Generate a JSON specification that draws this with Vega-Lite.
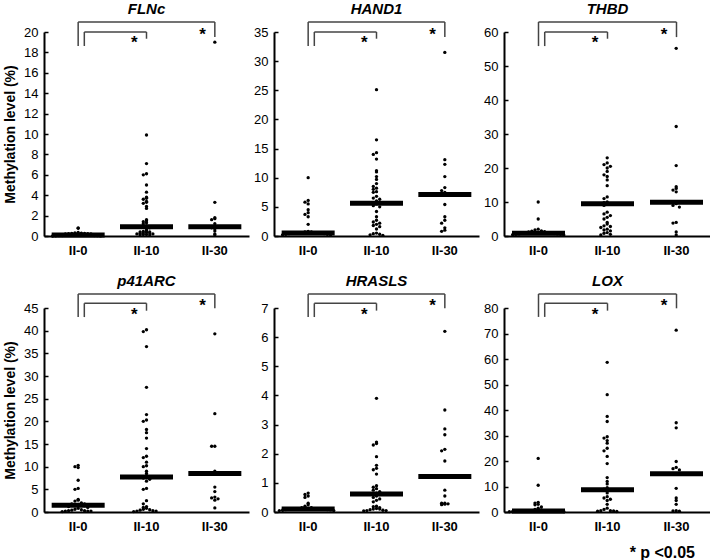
{
  "$schema": "https://vega.github.io/schema/vega-lite/v6.json",
  "padding": {"left": 3, "top": 2, "right": 0, "bottom": 0},
  "spacing": {"row": 17, "column": 4},
  "columns": 3,
  "title": {"text": "* p <0.05", "orient": "bottom", "anchor": "end", "fontSize": 16, "fontStyle": "normal", "fontWeight": "bold", "offset": 12, "dx": -16},
  "config": {
    "font": "Liberation Sans",
    "view": {"stroke": null},
    "axis": {"grid": false, "domainColor": "black", "domainWidth": 2, "tickColor": "black", "labelColor": "black", "titleColor": "black", "labelFont": "Liberation Sans", "titleFont": "Liberation Sans"},
    "axisY": {"tickSize": -4, "tickWidth": 1.5, "labelPadding": 10, "labelFontSize": 13, "labelOverlap": false, "titleFontSize": 14, "titleFontWeight": "bold", "titlePadding": 6},
    "axisX": {"ticks": false, "labelFontSize": 13, "labelFontWeight": "bold", "labelPadding": 8, "labelAngle": 0},
    "title": {"font": "Liberation Sans", "fontSize": 15, "fontWeight": "bold", "fontStyle": "italic", "color": "black", "offset": 4}
  },
  "datasets": {
    "FLNc": [
      {"group": "II-0", "value": 0.8}, {"group": "II-0", "value": 0.75}, {"group": "II-0", "value": 0.35}, {"group": "II-0", "value": 0.3},
      {"group": "II-0", "value": 0.28}, {"group": "II-0", "value": 0.26}, {"group": "II-0", "value": 0.25}, {"group": "II-0", "value": 0.22},
      {"group": "II-0", "value": 0.22}, {"group": "II-0", "value": 0.2}, {"group": "II-0", "value": 0.2}, {"group": "II-0", "value": 0.18},
      {"group": "II-0", "value": 0.15}, {"group": "II-0", "value": 0.12}, {"group": "II-0", "value": 0.1}, {"group": "II-0", "value": 0.1},
      {"group": "II-0", "value": 0.1}, {"group": "II-0", "value": 0.08}, {"group": "II-0", "value": 0.08}, {"group": "II-0", "value": 0.06},
      {"group": "II-0", "value": 0.05}, {"group": "II-0", "value": 0.05}, {"group": "II-0", "value": 0.04}, {"group": "II-0", "value": 0.03},
      {"group": "II-0", "value": 0.02}, {"group": "II-0", "value": 0.01}, {"group": "II-0", "value": 0},
      {"group": "II-10", "value": 9.9}, {"group": "II-10", "value": 7.1}, {"group": "II-10", "value": 6.1}, {"group": "II-10", "value": 6.0},
      {"group": "II-10", "value": 5.0}, {"group": "II-10", "value": 4.3}, {"group": "II-10", "value": 3.8}, {"group": "II-10", "value": 3.7},
      {"group": "II-10", "value": 3.6}, {"group": "II-10", "value": 3.4}, {"group": "II-10", "value": 3.3}, {"group": "II-10", "value": 3.2},
      {"group": "II-10", "value": 2.9}, {"group": "II-10", "value": 2.7}, {"group": "II-10", "value": 1.6}, {"group": "II-10", "value": 1.5},
      {"group": "II-10", "value": 1.4}, {"group": "II-10", "value": 1.3}, {"group": "II-10", "value": 1.2}, {"group": "II-10", "value": 1.0},
      {"group": "II-10", "value": 0.9}, {"group": "II-10", "value": 0.85}, {"group": "II-10", "value": 0.8}, {"group": "II-10", "value": 0.6},
      {"group": "II-10", "value": 0.5}, {"group": "II-10", "value": 0.45}, {"group": "II-10", "value": 0.4}, {"group": "II-10", "value": 0.4},
      {"group": "II-10", "value": 0.35}, {"group": "II-10", "value": 0.3}, {"group": "II-10", "value": 0.3}, {"group": "II-10", "value": 0.25},
      {"group": "II-10", "value": 0.2}, {"group": "II-10", "value": 0.2}, {"group": "II-10", "value": 0.15}, {"group": "II-10", "value": 0.15},
      {"group": "II-10", "value": 0.1}, {"group": "II-10", "value": 0.1},
      {"group": "II-30", "value": 19.0}, {"group": "II-30", "value": 3.3}, {"group": "II-30", "value": 1.8}, {"group": "II-30", "value": 1.7},
      {"group": "II-30", "value": 1.6}, {"group": "II-30", "value": 1.2}, {"group": "II-30", "value": 0.9}, {"group": "II-30", "value": 0.8},
      {"group": "II-30", "value": 0.7}, {"group": "II-30", "value": 0.5}, {"group": "II-30", "value": 0.2}, {"group": "II-30", "value": 0.1}
    ],
    "HAND1": [
      {"group": "II-0", "value": 10.0}, {"group": "II-0", "value": 6.1}, {"group": "II-0", "value": 5.8}, {"group": "II-0", "value": 5.5},
      {"group": "II-0", "value": 4.5}, {"group": "II-0", "value": 4.0}, {"group": "II-0", "value": 3.7}, {"group": "II-0", "value": 3.3},
      {"group": "II-0", "value": 2.0}, {"group": "II-0", "value": 0.8}, {"group": "II-0", "value": 0.7}, {"group": "II-0", "value": 0.7},
      {"group": "II-0", "value": 0.6}, {"group": "II-0", "value": 0.6}, {"group": "II-0", "value": 0.5}, {"group": "II-0", "value": 0.5},
      {"group": "II-0", "value": 0.5}, {"group": "II-0", "value": 0.5}, {"group": "II-0", "value": 0.5}, {"group": "II-0", "value": 0.5},
      {"group": "II-0", "value": 0.5}, {"group": "II-0", "value": 0.5}, {"group": "II-0", "value": 0.4}, {"group": "II-0", "value": 0.4},
      {"group": "II-0", "value": 0.3}, {"group": "II-0", "value": 0.3}, {"group": "II-0", "value": 0.2}, {"group": "II-0", "value": 0.2},
      {"group": "II-10", "value": 25.1}, {"group": "II-10", "value": 16.5}, {"group": "II-10", "value": 14.3}, {"group": "II-10", "value": 14.0},
      {"group": "II-10", "value": 13.2}, {"group": "II-10", "value": 11.2}, {"group": "II-10", "value": 11.0}, {"group": "II-10", "value": 10.2},
      {"group": "II-10", "value": 9.7}, {"group": "II-10", "value": 9.0}, {"group": "II-10", "value": 8.5}, {"group": "II-10", "value": 8.2},
      {"group": "II-10", "value": 8.0}, {"group": "II-10", "value": 7.6}, {"group": "II-10", "value": 7.5}, {"group": "II-10", "value": 6.8},
      {"group": "II-10", "value": 6.5}, {"group": "II-10", "value": 6.3}, {"group": "II-10", "value": 6.0}, {"group": "II-10", "value": 5.5},
      {"group": "II-10", "value": 5.2}, {"group": "II-10", "value": 5.0}, {"group": "II-10", "value": 4.2}, {"group": "II-10", "value": 3.3},
      {"group": "II-10", "value": 2.7}, {"group": "II-10", "value": 2.4}, {"group": "II-10", "value": 2.2}, {"group": "II-10", "value": 2.0},
      {"group": "II-10", "value": 1.8}, {"group": "II-10", "value": 1.6}, {"group": "II-10", "value": 1.2}, {"group": "II-10", "value": 0.5},
      {"group": "II-10", "value": 0.4}, {"group": "II-10", "value": 0.3}, {"group": "II-10", "value": 0.2}, {"group": "II-10", "value": 0.1},
      {"group": "II-30", "value": 31.5}, {"group": "II-30", "value": 13.1}, {"group": "II-30", "value": 12.3}, {"group": "II-30", "value": 10.2},
      {"group": "II-30", "value": 8.3}, {"group": "II-30", "value": 7.8}, {"group": "II-30", "value": 7.5}, {"group": "II-30", "value": 7.3},
      {"group": "II-30", "value": 5.4}, {"group": "II-30", "value": 3.3}, {"group": "II-30", "value": 2.7}, {"group": "II-30", "value": 2.2},
      {"group": "II-30", "value": 1.4}, {"group": "II-30", "value": 1.0}, {"group": "II-30", "value": 0.8}
    ],
    "THBD": [
      {"group": "II-0", "value": 10.0}, {"group": "II-0", "value": 5.0}, {"group": "II-0", "value": 2.0}, {"group": "II-0", "value": 1.8},
      {"group": "II-0", "value": 1.5}, {"group": "II-0", "value": 1.4}, {"group": "II-0", "value": 1.3}, {"group": "II-0", "value": 1.2},
      {"group": "II-0", "value": 1.0}, {"group": "II-0", "value": 1.0}, {"group": "II-0", "value": 0.9}, {"group": "II-0", "value": 0.9},
      {"group": "II-0", "value": 0.8}, {"group": "II-0", "value": 0.8}, {"group": "II-0", "value": 0.8}, {"group": "II-0", "value": 0.8},
      {"group": "II-0", "value": 0.8}, {"group": "II-0", "value": 0.8}, {"group": "II-0", "value": 0.7}, {"group": "II-0", "value": 0.6},
      {"group": "II-0", "value": 0.6}, {"group": "II-0", "value": 0.5}, {"group": "II-0", "value": 0.5}, {"group": "II-0", "value": 0.4},
      {"group": "II-0", "value": 0.3},
      {"group": "II-10", "value": 23.0}, {"group": "II-10", "value": 21.5}, {"group": "II-10", "value": 21.0}, {"group": "II-10", "value": 20.5},
      {"group": "II-10", "value": 20.0}, {"group": "II-10", "value": 19.0}, {"group": "II-10", "value": 18.0}, {"group": "II-10", "value": 17.5},
      {"group": "II-10", "value": 16.5}, {"group": "II-10", "value": 14.8}, {"group": "II-10", "value": 11.5}, {"group": "II-10", "value": 11.0},
      {"group": "II-10", "value": 10.0}, {"group": "II-10", "value": 9.8}, {"group": "II-10", "value": 9.5}, {"group": "II-10", "value": 9.0},
      {"group": "II-10", "value": 7.0}, {"group": "II-10", "value": 6.5}, {"group": "II-10", "value": 6.0}, {"group": "II-10", "value": 5.5},
      {"group": "II-10", "value": 5.0}, {"group": "II-10", "value": 4.0}, {"group": "II-10", "value": 3.5}, {"group": "II-10", "value": 3.0},
      {"group": "II-10", "value": 2.8}, {"group": "II-10", "value": 2.5}, {"group": "II-10", "value": 2.0}, {"group": "II-10", "value": 1.8},
      {"group": "II-10", "value": 1.5}, {"group": "II-10", "value": 1.0}, {"group": "II-10", "value": 0.8}, {"group": "II-10", "value": 0.5},
      {"group": "II-10", "value": 0.3},
      {"group": "II-30", "value": 55.2}, {"group": "II-30", "value": 32.2}, {"group": "II-30", "value": 20.7}, {"group": "II-30", "value": 14.5},
      {"group": "II-30", "value": 14.0}, {"group": "II-30", "value": 13.5}, {"group": "II-30", "value": 13.0}, {"group": "II-30", "value": 10.0},
      {"group": "II-30", "value": 9.5}, {"group": "II-30", "value": 9.0}, {"group": "II-30", "value": 8.5}, {"group": "II-30", "value": 4.0},
      {"group": "II-30", "value": 3.8}, {"group": "II-30", "value": 1.2}, {"group": "II-30", "value": 0.3}
    ],
    "p41ARC": [
      {"group": "II-0", "value": 10.3}, {"group": "II-0", "value": 10.0}, {"group": "II-0", "value": 9.8}, {"group": "II-0", "value": 7.0},
      {"group": "II-0", "value": 5.2}, {"group": "II-0", "value": 5.0}, {"group": "II-0", "value": 2.8}, {"group": "II-0", "value": 2.6},
      {"group": "II-0", "value": 2.4}, {"group": "II-0", "value": 2.0}, {"group": "II-0", "value": 1.8}, {"group": "II-0", "value": 1.8},
      {"group": "II-0", "value": 1.7}, {"group": "II-0", "value": 1.6}, {"group": "II-0", "value": 1.5}, {"group": "II-0", "value": 1.5},
      {"group": "II-0", "value": 1.4}, {"group": "II-0", "value": 1.2}, {"group": "II-0", "value": 1.0}, {"group": "II-0", "value": 0.8},
      {"group": "II-0", "value": 0.6}, {"group": "II-0", "value": 0.5}, {"group": "II-0", "value": 0.4}, {"group": "II-0", "value": 0.3},
      {"group": "II-0", "value": 0.3}, {"group": "II-0", "value": 0.2}, {"group": "II-0", "value": 0.2}, {"group": "II-0", "value": 0.2},
      {"group": "II-0", "value": 0.1},
      {"group": "II-10", "value": 40.2}, {"group": "II-10", "value": 39.8}, {"group": "II-10", "value": 36.5}, {"group": "II-10", "value": 27.5},
      {"group": "II-10", "value": 21.5}, {"group": "II-10", "value": 20.3}, {"group": "II-10", "value": 20.0}, {"group": "II-10", "value": 18.2},
      {"group": "II-10", "value": 17.5}, {"group": "II-10", "value": 16.3}, {"group": "II-10", "value": 14.0}, {"group": "II-10", "value": 12.3},
      {"group": "II-10", "value": 12.0}, {"group": "II-10", "value": 11.0}, {"group": "II-10", "value": 10.2}, {"group": "II-10", "value": 10.0},
      {"group": "II-10", "value": 9.0}, {"group": "II-10", "value": 8.5}, {"group": "II-10", "value": 8.0}, {"group": "II-10", "value": 7.5},
      {"group": "II-10", "value": 7.2}, {"group": "II-10", "value": 6.8}, {"group": "II-10", "value": 5.2}, {"group": "II-10", "value": 5.0},
      {"group": "II-10", "value": 2.5}, {"group": "II-10", "value": 1.8}, {"group": "II-10", "value": 1.2}, {"group": "II-10", "value": 1.0},
      {"group": "II-10", "value": 0.8}, {"group": "II-10", "value": 0.6}, {"group": "II-10", "value": 0.5}, {"group": "II-10", "value": 0.4},
      {"group": "II-10", "value": 0.3}, {"group": "II-10", "value": 0.2}, {"group": "II-10", "value": 0.2}, {"group": "II-10", "value": 0.1},
      {"group": "II-30", "value": 39.3}, {"group": "II-30", "value": 21.7}, {"group": "II-30", "value": 14.5}, {"group": "II-30", "value": 14.5},
      {"group": "II-30", "value": 9.0}, {"group": "II-30", "value": 8.8}, {"group": "II-30", "value": 8.6}, {"group": "II-30", "value": 5.5},
      {"group": "II-30", "value": 4.5}, {"group": "II-30", "value": 3.3}, {"group": "II-30", "value": 3.1}, {"group": "II-30", "value": 2.9},
      {"group": "II-30", "value": 2.6}, {"group": "II-30", "value": 0.9}
    ],
    "HRASLS": [
      {"group": "II-0", "value": 0.65}, {"group": "II-0", "value": 0.6}, {"group": "II-0", "value": 0.55}, {"group": "II-0", "value": 0.5},
      {"group": "II-0", "value": 0.3}, {"group": "II-0", "value": 0.25}, {"group": "II-0", "value": 0.2}, {"group": "II-0", "value": 0.15},
      {"group": "II-0", "value": 0.15}, {"group": "II-0", "value": 0.12}, {"group": "II-0", "value": 0.1}, {"group": "II-0", "value": 0.1},
      {"group": "II-0", "value": 0.1}, {"group": "II-0", "value": 0.1}, {"group": "II-0", "value": 0.1}, {"group": "II-0", "value": 0.1},
      {"group": "II-0", "value": 0.1}, {"group": "II-0", "value": 0.1}, {"group": "II-0", "value": 0.1}, {"group": "II-0", "value": 0.1},
      {"group": "II-0", "value": 0.09}, {"group": "II-0", "value": 0.08}, {"group": "II-0", "value": 0.08}, {"group": "II-0", "value": 0.07},
      {"group": "II-0", "value": 0.06}, {"group": "II-0", "value": 0.05}, {"group": "II-0", "value": 0.05},
      {"group": "II-10", "value": 3.9}, {"group": "II-10", "value": 2.4}, {"group": "II-10", "value": 2.35}, {"group": "II-10", "value": 2.3},
      {"group": "II-10", "value": 1.9}, {"group": "II-10", "value": 1.6}, {"group": "II-10", "value": 1.5}, {"group": "II-10", "value": 1.45},
      {"group": "II-10", "value": 1.3}, {"group": "II-10", "value": 0.9}, {"group": "II-10", "value": 0.85}, {"group": "II-10", "value": 0.8},
      {"group": "II-10", "value": 0.75}, {"group": "II-10", "value": 0.7}, {"group": "II-10", "value": 0.65}, {"group": "II-10", "value": 0.62},
      {"group": "II-10", "value": 0.6}, {"group": "II-10", "value": 0.55}, {"group": "II-10", "value": 0.5}, {"group": "II-10", "value": 0.45},
      {"group": "II-10", "value": 0.4}, {"group": "II-10", "value": 0.35}, {"group": "II-10", "value": 0.2}, {"group": "II-10", "value": 0.18},
      {"group": "II-10", "value": 0.15}, {"group": "II-10", "value": 0.12}, {"group": "II-10", "value": 0.1}, {"group": "II-10", "value": 0.1},
      {"group": "II-10", "value": 0.08}, {"group": "II-10", "value": 0.06}, {"group": "II-10", "value": 0.05}, {"group": "II-10", "value": 0.05},
      {"group": "II-10", "value": 0.04},
      {"group": "II-30", "value": 6.2}, {"group": "II-30", "value": 3.5}, {"group": "II-30", "value": 2.85}, {"group": "II-30", "value": 2.65},
      {"group": "II-30", "value": 2.15}, {"group": "II-30", "value": 2.1}, {"group": "II-30", "value": 1.75}, {"group": "II-30", "value": 0.75},
      {"group": "II-30", "value": 0.55}, {"group": "II-30", "value": 0.3}, {"group": "II-30", "value": 0.3}, {"group": "II-30", "value": 0.28},
      {"group": "II-30", "value": 0.27}, {"group": "II-30", "value": 0.25}
    ],
    "LOX": [
      {"group": "II-0", "value": 21.0}, {"group": "II-0", "value": 10.5}, {"group": "II-0", "value": 3.8}, {"group": "II-0", "value": 3.5},
      {"group": "II-0", "value": 3.0}, {"group": "II-0", "value": 2.8}, {"group": "II-0", "value": 2.0}, {"group": "II-0", "value": 1.5},
      {"group": "II-0", "value": 1.0}, {"group": "II-0", "value": 0.8}, {"group": "II-0", "value": 0.5}, {"group": "II-0", "value": 0.5},
      {"group": "II-0", "value": 0.5}, {"group": "II-0", "value": 0.5}, {"group": "II-0", "value": 0.5}, {"group": "II-0", "value": 0.5},
      {"group": "II-0", "value": 0.5}, {"group": "II-0", "value": 0.5}, {"group": "II-0", "value": 0.4}, {"group": "II-0", "value": 0.3},
      {"group": "II-0", "value": 0.3}, {"group": "II-0", "value": 0.3}, {"group": "II-0", "value": 0.2}, {"group": "II-0", "value": 0.2},
      {"group": "II-0", "value": 0.1},
      {"group": "II-10", "value": 58.7}, {"group": "II-10", "value": 46.0}, {"group": "II-10", "value": 37.5}, {"group": "II-10", "value": 35.5},
      {"group": "II-10", "value": 29.5}, {"group": "II-10", "value": 29.0}, {"group": "II-10", "value": 28.0}, {"group": "II-10", "value": 27.0},
      {"group": "II-10", "value": 25.0}, {"group": "II-10", "value": 24.0}, {"group": "II-10", "value": 21.8}, {"group": "II-10", "value": 19.0},
      {"group": "II-10", "value": 13.5}, {"group": "II-10", "value": 12.0}, {"group": "II-10", "value": 11.0}, {"group": "II-10", "value": 9.5},
      {"group": "II-10", "value": 9.0}, {"group": "II-10", "value": 8.5}, {"group": "II-10", "value": 7.5}, {"group": "II-10", "value": 6.0},
      {"group": "II-10", "value": 5.5}, {"group": "II-10", "value": 5.0}, {"group": "II-10", "value": 4.5}, {"group": "II-10", "value": 3.0},
      {"group": "II-10", "value": 1.5}, {"group": "II-10", "value": 1.0}, {"group": "II-10", "value": 0.5}, {"group": "II-10", "value": 0.5},
      {"group": "II-10", "value": 0.4}, {"group": "II-10", "value": 0.3}, {"group": "II-10", "value": 0.2},
      {"group": "II-30", "value": 71.3}, {"group": "II-30", "value": 35.0}, {"group": "II-30", "value": 33.0}, {"group": "II-30", "value": 19.8},
      {"group": "II-30", "value": 17.5}, {"group": "II-30", "value": 17.0}, {"group": "II-30", "value": 16.5}, {"group": "II-30", "value": 15.0},
      {"group": "II-30", "value": 9.3}, {"group": "II-30", "value": 5.5}, {"group": "II-30", "value": 4.5}, {"group": "II-30", "value": 3.0},
      {"group": "II-30", "value": 0.5}, {"group": "II-30", "value": 0.4}, {"group": "II-30", "value": 0.3}
    ],
    "med": [
      {"gene": "FLNc", "group": "II-0", "value": 0.1}, {"gene": "FLNc", "group": "II-10", "value": 0.9}, {"gene": "FLNc", "group": "II-30", "value": 0.9},
      {"gene": "HAND1", "group": "II-0", "value": 0.5}, {"gene": "HAND1", "group": "II-10", "value": 5.6}, {"gene": "HAND1", "group": "II-30", "value": 7.1},
      {"gene": "THBD", "group": "II-0", "value": 0.8}, {"gene": "THBD", "group": "II-10", "value": 9.5}, {"gene": "THBD", "group": "II-30", "value": 9.9},
      {"gene": "p41ARC", "group": "II-0", "value": 1.5}, {"gene": "p41ARC", "group": "II-10", "value": 7.7}, {"gene": "p41ARC", "group": "II-30", "value": 8.5},
      {"gene": "HRASLS", "group": "II-0", "value": 0.1}, {"gene": "HRASLS", "group": "II-10", "value": 0.62}, {"gene": "HRASLS", "group": "II-30", "value": 1.22},
      {"gene": "LOX", "group": "II-0", "value": 0.4}, {"gene": "LOX", "group": "II-10", "value": 8.7}, {"gene": "LOX", "group": "II-30", "value": 15}
    ],
    "brk": [
      {"gene": "FLNc", "part": "a", "g1": "II-0", "g2": "II-30", "y1": 20.98, "y2": 20.98},
      {"gene": "FLNc", "part": "a", "g1": "II-0", "g2": "II-0", "y1": 20.98, "y2": 18.63},
      {"gene": "FLNc", "part": "a", "g1": "II-30", "g2": "II-30", "y1": 20.98, "y2": 19.51},
      {"gene": "FLNc", "part": "a", "g1": "II-10", "g2": "II-10", "y1": 20, "y2": 19.34},
      {"gene": "FLNc", "part": "h", "g1": "II-0", "g2": "II-10", "y1": 20, "y2": 20},
      {"gene": "FLNc", "part": "l", "g1": "II-0", "g2": "II-0", "y1": 20, "y2": 18.63},
      {"gene": "FLNc", "part": "star", "g1": "II-10", "y1": 19.22},
      {"gene": "FLNc", "part": "star", "g1": "II-30", "y1": 20.0},
      {"gene": "HAND1", "part": "a", "g1": "II-0", "g2": "II-30", "y1": 36.72, "y2": 36.72},
      {"gene": "HAND1", "part": "a", "g1": "II-0", "g2": "II-0", "y1": 36.72, "y2": 32.6},
      {"gene": "HAND1", "part": "a", "g1": "II-30", "g2": "II-30", "y1": 36.72, "y2": 34.13},
      {"gene": "HAND1", "part": "a", "g1": "II-10", "g2": "II-10", "y1": 35, "y2": 33.85},
      {"gene": "HAND1", "part": "h", "g1": "II-0", "g2": "II-10", "y1": 35, "y2": 35},
      {"gene": "HAND1", "part": "l", "g1": "II-0", "g2": "II-0", "y1": 35, "y2": 32.6},
      {"gene": "HAND1", "part": "star", "g1": "II-10", "y1": 33.63},
      {"gene": "HAND1", "part": "star", "g1": "II-30", "y1": 35.0},
      {"gene": "THBD", "part": "a", "g1": "II-0", "g2": "II-30", "y1": 62.94, "y2": 62.94},
      {"gene": "THBD", "part": "a", "g1": "II-0", "g2": "II-0", "y1": 62.94, "y2": 55.86},
      {"gene": "THBD", "part": "a", "g1": "II-30", "g2": "II-30", "y1": 62.94, "y2": 58.5},
      {"gene": "THBD", "part": "a", "g1": "II-10", "g2": "II-10", "y1": 60, "y2": 58.02},
      {"gene": "THBD", "part": "h", "g1": "II-0", "g2": "II-10", "y1": 60, "y2": 60},
      {"gene": "THBD", "part": "l", "g1": "II-0", "g2": "II-0", "y1": 60, "y2": 55.86},
      {"gene": "THBD", "part": "star", "g1": "II-10", "y1": 57.66},
      {"gene": "THBD", "part": "star", "g1": "II-30", "y1": 60.0},
      {"gene": "p41ARC", "part": "a", "g1": "II-0", "g2": "II-30", "y1": 48.1, "y2": 48.1},
      {"gene": "p41ARC", "part": "a", "g1": "II-0", "g2": "II-0", "y1": 48.1, "y2": 43.0},
      {"gene": "p41ARC", "part": "a", "g1": "II-30", "g2": "II-30", "y1": 48.1, "y2": 44.93},
      {"gene": "p41ARC", "part": "a", "g1": "II-10", "g2": "II-10", "y1": 46.04, "y2": 44.4},
      {"gene": "p41ARC", "part": "h", "g1": "II-0", "g2": "II-10", "y1": 46.04, "y2": 46.04},
      {"gene": "p41ARC", "part": "l", "g1": "II-0", "g2": "II-0", "y1": 46.04, "y2": 43.0},
      {"gene": "p41ARC", "part": "star", "g1": "II-10", "y1": 44.1},
      {"gene": "p41ARC", "part": "star", "g1": "II-30", "y1": 46.1},
      {"gene": "HRASLS", "part": "a", "g1": "II-0", "g2": "II-30", "y1": 7.48, "y2": 7.48},
      {"gene": "HRASLS", "part": "a", "g1": "II-0", "g2": "II-0", "y1": 7.48, "y2": 6.69},
      {"gene": "HRASLS", "part": "a", "g1": "II-30", "g2": "II-30", "y1": 7.48, "y2": 6.99},
      {"gene": "HRASLS", "part": "a", "g1": "II-10", "g2": "II-10", "y1": 7.16, "y2": 6.91},
      {"gene": "HRASLS", "part": "h", "g1": "II-0", "g2": "II-10", "y1": 7.16, "y2": 7.16},
      {"gene": "HRASLS", "part": "l", "g1": "II-0", "g2": "II-0", "y1": 7.16, "y2": 6.69},
      {"gene": "HRASLS", "part": "star", "g1": "II-10", "y1": 6.86},
      {"gene": "HRASLS", "part": "star", "g1": "II-30", "y1": 7.17},
      {"gene": "LOX", "part": "a", "g1": "II-0", "g2": "II-30", "y1": 85.5, "y2": 85.5},
      {"gene": "LOX", "part": "a", "g1": "II-0", "g2": "II-0", "y1": 85.5, "y2": 76.5},
      {"gene": "LOX", "part": "a", "g1": "II-30", "g2": "II-30", "y1": 85.5, "y2": 79.88},
      {"gene": "LOX", "part": "a", "g1": "II-10", "g2": "II-10", "y1": 81.84, "y2": 78.96},
      {"gene": "LOX", "part": "h", "g1": "II-0", "g2": "II-10", "y1": 81.84, "y2": 81.84},
      {"gene": "LOX", "part": "l", "g1": "II-0", "g2": "II-0", "y1": 81.84, "y2": 76.5},
      {"gene": "LOX", "part": "star", "g1": "II-10", "y1": 78.4},
      {"gene": "LOX", "part": "star", "g1": "II-30", "y1": 81.96}
    ]
  },
  "concat": [
    {
      "title": "FLNc", "width": 205, "height": 204,
      "layer": [
        {"data": {"name": "FLNc"},
         "transform": [{"bin": {"step": 0.2}, "field": "value", "as": "vbin"}, {"window": [{"op": "row_number", "as": "slot"}], "groupby": ["group", "vbin"], "sort": [{"field": "value", "order": "descending"}]}],
         "mark": {"type": "circle", "size": 11, "color": "black", "opacity": 1},
         "encoding": {
           "x": {"field": "group", "type": "nominal", "scale": {"domain": ["II-0", "II-10", "II-30"], "paddingInner": 0.1, "paddingOuter": 0.05}, "axis": {"title": null}},
           "xOffset": {"field": "slot", "type": "ordinal", "scale": {"type": "point", "padding": 0, "range": [-17.25, 78.75], "domain": [30, 28, 26, 24, 22, 20, 18, 16, 14, 12, 10, 8, 6, 4, 2, 1, 3, 5, 7, 9, 11, 13, 15, 17, 19, 21, 23, 25, 27, 29, 31]}},
           "y": {"field": "value", "type": "quantitative", "scale": {"domain": [0, 20], "nice": false}, "axis": {"values": [0, 2, 4, 6, 8, 10, 12, 14, 16, 18, 20], "title": "Methylation level (%)"}}
         }},
        {"data": {"name": "med"}, "transform": [{"filter": "datum.gene == 'FLNc'"}],
         "mark": {"type": "tick", "size": 53, "thickness": 5, "color": "black", "opacity": 1},
         "encoding": {"x": {"field": "group", "type": "nominal", "axis": {"title": null}}, "y": {"field": "value", "type": "quantitative", "axis": {"values": [0, 2, 4, 6, 8, 10, 12, 14, 16, 18, 20], "title": "Methylation level (%)"}}}},
        {"data": {"name": "brk"}, "transform": [{"filter": "datum.gene == 'FLNc' && datum.part == 'a'"}],
         "mark": {"type": "rule", "color": "#444", "strokeWidth": 1.5},
         "encoding": {"x": {"field": "g1", "type": "nominal", "bandPosition": 0.5, "axis": {"title": null}}, "x2": {"field": "g2", "bandPosition": 0.5}, "y": {"field": "y1", "type": "quantitative", "axis": {"values": [0, 2, 4, 6, 8, 10, 12, 14, 16, 18, 20], "title": "Methylation level (%)"}}, "y2": {"field": "y2"}}},
        {"data": {"name": "brk"}, "transform": [{"filter": "datum.gene == 'FLNc' && datum.part == 'h'"}],
         "mark": {"type": "rule", "color": "#444", "strokeWidth": 1.5},
         "encoding": {"x": {"field": "g1", "type": "nominal", "bandPosition": 0.6, "axis": {"title": null}}, "x2": {"field": "g2", "bandPosition": 0.5}, "y": {"field": "y1", "type": "quantitative", "axis": {"values": [0, 2, 4, 6, 8, 10, 12, 14, 16, 18, 20], "title": "Methylation level (%)"}}, "y2": {"field": "y2"}}},
        {"data": {"name": "brk"}, "transform": [{"filter": "datum.gene == 'FLNc' && datum.part == 'l'"}],
         "mark": {"type": "rule", "color": "#444", "strokeWidth": 1.5},
         "encoding": {"x": {"field": "g1", "type": "nominal", "bandPosition": 0.6, "axis": {"title": null}}, "x2": {"field": "g2", "bandPosition": 0.6}, "y": {"field": "y1", "type": "quantitative", "axis": {"values": [0, 2, 4, 6, 8, 10, 12, 14, 16, 18, 20], "title": "Methylation level (%)"}}, "y2": {"field": "y2"}}},
        {"data": {"name": "brk"}, "transform": [{"filter": "datum.gene == 'FLNc' && datum.part == 'star'"}],
         "mark": {"type": "text", "text": "*", "fontSize": 17, "fontWeight": "bold", "baseline": "middle", "dy": 3, "color": "black"},
         "encoding": {"x": {"field": "g1", "type": "nominal", "bandPosition": 0.3, "axis": {"title": null}}, "y": {"field": "y1", "type": "quantitative", "axis": {"values": [0, 2, 4, 6, 8, 10, 12, 14, 16, 18, 20], "title": "Methylation level (%)"}}}}
      ]
    },
    {
      "title": "HAND1", "width": 205, "height": 204,
      "layer": [
        {"data": {"name": "HAND1"},
         "transform": [{"bin": {"step": 0.7}, "field": "value", "as": "vbin"}, {"window": [{"op": "row_number", "as": "slot"}], "groupby": ["group", "vbin"], "sort": [{"field": "value", "order": "descending"}]}],
         "mark": {"type": "circle", "size": 11, "color": "black", "opacity": 1},
         "encoding": {
           "x": {"field": "group", "type": "nominal", "scale": {"domain": ["II-0", "II-10", "II-30"], "paddingInner": 0.1, "paddingOuter": 0.05}, "axis": {"title": null}},
           "xOffset": {"field": "slot", "type": "ordinal", "scale": {"type": "point", "padding": 0, "range": [-17.25, 78.75], "domain": [30, 28, 26, 24, 22, 20, 18, 16, 14, 12, 10, 8, 6, 4, 2, 1, 3, 5, 7, 9, 11, 13, 15, 17, 19, 21, 23, 25, 27, 29, 31]}},
           "y": {"field": "value", "type": "quantitative", "scale": {"domain": [0, 35], "nice": false}, "axis": {"values": [0, 5, 10, 15, 20, 25, 30, 35], "title": null}}
         }},
        {"data": {"name": "med"}, "transform": [{"filter": "datum.gene == 'HAND1'"}],
         "mark": {"type": "tick", "size": 53, "thickness": 5, "color": "black", "opacity": 1},
         "encoding": {"x": {"field": "group", "type": "nominal", "axis": {"title": null}}, "y": {"field": "value", "type": "quantitative", "axis": {"values": [0, 5, 10, 15, 20, 25, 30, 35], "title": null}}}},
        {"data": {"name": "brk"}, "transform": [{"filter": "datum.gene == 'HAND1' && datum.part == 'a'"}],
         "mark": {"type": "rule", "color": "#444", "strokeWidth": 1.5},
         "encoding": {"x": {"field": "g1", "type": "nominal", "bandPosition": 0.5, "axis": {"title": null}}, "x2": {"field": "g2", "bandPosition": 0.5}, "y": {"field": "y1", "type": "quantitative", "axis": {"values": [0, 5, 10, 15, 20, 25, 30, 35], "title": null}}, "y2": {"field": "y2"}}},
        {"data": {"name": "brk"}, "transform": [{"filter": "datum.gene == 'HAND1' && datum.part == 'h'"}],
         "mark": {"type": "rule", "color": "#444", "strokeWidth": 1.5},
         "encoding": {"x": {"field": "g1", "type": "nominal", "bandPosition": 0.6, "axis": {"title": null}}, "x2": {"field": "g2", "bandPosition": 0.5}, "y": {"field": "y1", "type": "quantitative", "axis": {"values": [0, 5, 10, 15, 20, 25, 30, 35], "title": null}}, "y2": {"field": "y2"}}},
        {"data": {"name": "brk"}, "transform": [{"filter": "datum.gene == 'HAND1' && datum.part == 'l'"}],
         "mark": {"type": "rule", "color": "#444", "strokeWidth": 1.5},
         "encoding": {"x": {"field": "g1", "type": "nominal", "bandPosition": 0.6, "axis": {"title": null}}, "x2": {"field": "g2", "bandPosition": 0.6}, "y": {"field": "y1", "type": "quantitative", "axis": {"values": [0, 5, 10, 15, 20, 25, 30, 35], "title": null}}, "y2": {"field": "y2"}}},
        {"data": {"name": "brk"}, "transform": [{"filter": "datum.gene == 'HAND1' && datum.part == 'star'"}],
         "mark": {"type": "text", "text": "*", "fontSize": 17, "fontWeight": "bold", "baseline": "middle", "dy": 3, "color": "black"},
         "encoding": {"x": {"field": "g1", "type": "nominal", "bandPosition": 0.3, "axis": {"title": null}}, "y": {"field": "y1", "type": "quantitative", "axis": {"values": [0, 5, 10, 15, 20, 25, 30, 35], "title": null}}}}
      ]
    },
    {
      "title": "THBD", "width": 207, "height": 204,
      "layer": [
        {"data": {"name": "THBD"},
         "transform": [{"bin": {"step": 1.2}, "field": "value", "as": "vbin"}, {"window": [{"op": "row_number", "as": "slot"}], "groupby": ["group", "vbin"], "sort": [{"field": "value", "order": "descending"}]}],
         "mark": {"type": "circle", "size": 11, "color": "black", "opacity": 1},
         "encoding": {
           "x": {"field": "group", "type": "nominal", "scale": {"domain": ["II-0", "II-10", "II-30"], "paddingInner": 0.1, "paddingOuter": 0.05}, "axis": {"title": null}},
           "xOffset": {"field": "slot", "type": "ordinal", "scale": {"type": "point", "padding": 0, "range": [-17.25, 78.75], "domain": [30, 28, 26, 24, 22, 20, 18, 16, 14, 12, 10, 8, 6, 4, 2, 1, 3, 5, 7, 9, 11, 13, 15, 17, 19, 21, 23, 25, 27, 29, 31]}},
           "y": {"field": "value", "type": "quantitative", "scale": {"domain": [0, 60], "nice": false}, "axis": {"values": [0, 10, 20, 30, 40, 50, 60], "title": null}}
         }},
        {"data": {"name": "med"}, "transform": [{"filter": "datum.gene == 'THBD'"}],
         "mark": {"type": "tick", "size": 53, "thickness": 5, "color": "black", "opacity": 1},
         "encoding": {"x": {"field": "group", "type": "nominal", "axis": {"title": null}}, "y": {"field": "value", "type": "quantitative", "axis": {"values": [0, 10, 20, 30, 40, 50, 60], "title": null}}}},
        {"data": {"name": "brk"}, "transform": [{"filter": "datum.gene == 'THBD' && datum.part == 'a'"}],
         "mark": {"type": "rule", "color": "#444", "strokeWidth": 1.5},
         "encoding": {"x": {"field": "g1", "type": "nominal", "bandPosition": 0.5, "axis": {"title": null}}, "x2": {"field": "g2", "bandPosition": 0.5}, "y": {"field": "y1", "type": "quantitative", "axis": {"values": [0, 10, 20, 30, 40, 50, 60], "title": null}}, "y2": {"field": "y2"}}},
        {"data": {"name": "brk"}, "transform": [{"filter": "datum.gene == 'THBD' && datum.part == 'h'"}],
         "mark": {"type": "rule", "color": "#444", "strokeWidth": 1.5},
         "encoding": {"x": {"field": "g1", "type": "nominal", "bandPosition": 0.6, "axis": {"title": null}}, "x2": {"field": "g2", "bandPosition": 0.5}, "y": {"field": "y1", "type": "quantitative", "axis": {"values": [0, 10, 20, 30, 40, 50, 60], "title": null}}, "y2": {"field": "y2"}}},
        {"data": {"name": "brk"}, "transform": [{"filter": "datum.gene == 'THBD' && datum.part == 'l'"}],
         "mark": {"type": "rule", "color": "#444", "strokeWidth": 1.5},
         "encoding": {"x": {"field": "g1", "type": "nominal", "bandPosition": 0.6, "axis": {"title": null}}, "x2": {"field": "g2", "bandPosition": 0.6}, "y": {"field": "y1", "type": "quantitative", "axis": {"values": [0, 10, 20, 30, 40, 50, 60], "title": null}}, "y2": {"field": "y2"}}},
        {"data": {"name": "brk"}, "transform": [{"filter": "datum.gene == 'THBD' && datum.part == 'star'"}],
         "mark": {"type": "text", "text": "*", "fontSize": 17, "fontWeight": "bold", "baseline": "middle", "dy": 3, "color": "black"},
         "encoding": {"x": {"field": "g1", "type": "nominal", "bandPosition": 0.3, "axis": {"title": null}}, "y": {"field": "y1", "type": "quantitative", "axis": {"values": [0, 10, 20, 30, 40, 50, 60], "title": null}}}}
      ]
    },
    {
      "title": "p41ARC", "width": 205, "height": 204,
      "layer": [
        {"data": {"name": "p41ARC"},
         "transform": [{"bin": {"step": 0.9}, "field": "value", "as": "vbin"}, {"window": [{"op": "row_number", "as": "slot"}], "groupby": ["group", "vbin"], "sort": [{"field": "value", "order": "descending"}]}],
         "mark": {"type": "circle", "size": 11, "color": "black", "opacity": 1},
         "encoding": {
           "x": {"field": "group", "type": "nominal", "scale": {"domain": ["II-0", "II-10", "II-30"], "paddingInner": 0.1, "paddingOuter": 0.05}, "axis": {"title": null}},
           "xOffset": {"field": "slot", "type": "ordinal", "scale": {"type": "point", "padding": 0, "range": [-17.25, 78.75], "domain": [30, 28, 26, 24, 22, 20, 18, 16, 14, 12, 10, 8, 6, 4, 2, 1, 3, 5, 7, 9, 11, 13, 15, 17, 19, 21, 23, 25, 27, 29, 31]}},
           "y": {"field": "value", "type": "quantitative", "scale": {"domain": [0, 45], "nice": false}, "axis": {"values": [0, 5, 10, 15, 20, 25, 30, 35, 40, 45], "title": "Methylation level (%)"}}
         }},
        {"data": {"name": "med"}, "transform": [{"filter": "datum.gene == 'p41ARC'"}],
         "mark": {"type": "tick", "size": 53, "thickness": 5, "color": "black", "opacity": 1},
         "encoding": {"x": {"field": "group", "type": "nominal", "axis": {"title": null}}, "y": {"field": "value", "type": "quantitative", "axis": {"values": [0, 5, 10, 15, 20, 25, 30, 35, 40, 45], "title": "Methylation level (%)"}}}},
        {"data": {"name": "brk"}, "transform": [{"filter": "datum.gene == 'p41ARC' && datum.part == 'a'"}],
         "mark": {"type": "rule", "color": "#444", "strokeWidth": 1.5},
         "encoding": {"x": {"field": "g1", "type": "nominal", "bandPosition": 0.5, "axis": {"title": null}}, "x2": {"field": "g2", "bandPosition": 0.5}, "y": {"field": "y1", "type": "quantitative", "axis": {"values": [0, 5, 10, 15, 20, 25, 30, 35, 40, 45], "title": "Methylation level (%)"}}, "y2": {"field": "y2"}}},
        {"data": {"name": "brk"}, "transform": [{"filter": "datum.gene == 'p41ARC' && datum.part == 'h'"}],
         "mark": {"type": "rule", "color": "#444", "strokeWidth": 1.5},
         "encoding": {"x": {"field": "g1", "type": "nominal", "bandPosition": 0.6, "axis": {"title": null}}, "x2": {"field": "g2", "bandPosition": 0.5}, "y": {"field": "y1", "type": "quantitative", "axis": {"values": [0, 5, 10, 15, 20, 25, 30, 35, 40, 45], "title": "Methylation level (%)"}}, "y2": {"field": "y2"}}},
        {"data": {"name": "brk"}, "transform": [{"filter": "datum.gene == 'p41ARC' && datum.part == 'l'"}],
         "mark": {"type": "rule", "color": "#444", "strokeWidth": 1.5},
         "encoding": {"x": {"field": "g1", "type": "nominal", "bandPosition": 0.6, "axis": {"title": null}}, "x2": {"field": "g2", "bandPosition": 0.6}, "y": {"field": "y1", "type": "quantitative", "axis": {"values": [0, 5, 10, 15, 20, 25, 30, 35, 40, 45], "title": "Methylation level (%)"}}, "y2": {"field": "y2"}}},
        {"data": {"name": "brk"}, "transform": [{"filter": "datum.gene == 'p41ARC' && datum.part == 'star'"}],
         "mark": {"type": "text", "text": "*", "fontSize": 17, "fontWeight": "bold", "baseline": "middle", "dy": 3, "color": "black"},
         "encoding": {"x": {"field": "g1", "type": "nominal", "bandPosition": 0.3, "axis": {"title": null}}, "y": {"field": "y1", "type": "quantitative", "axis": {"values": [0, 5, 10, 15, 20, 25, 30, 35, 40, 45], "title": "Methylation level (%)"}}}}
      ]
    },
    {
      "title": "HRASLS", "width": 205, "height": 204,
      "layer": [
        {"data": {"name": "HRASLS"},
         "transform": [{"bin": {"step": 0.14}, "field": "value", "as": "vbin"}, {"window": [{"op": "row_number", "as": "slot"}], "groupby": ["group", "vbin"], "sort": [{"field": "value", "order": "descending"}]}],
         "mark": {"type": "circle", "size": 11, "color": "black", "opacity": 1},
         "encoding": {
           "x": {"field": "group", "type": "nominal", "scale": {"domain": ["II-0", "II-10", "II-30"], "paddingInner": 0.1, "paddingOuter": 0.05}, "axis": {"title": null}},
           "xOffset": {"field": "slot", "type": "ordinal", "scale": {"type": "point", "padding": 0, "range": [-17.25, 78.75], "domain": [30, 28, 26, 24, 22, 20, 18, 16, 14, 12, 10, 8, 6, 4, 2, 1, 3, 5, 7, 9, 11, 13, 15, 17, 19, 21, 23, 25, 27, 29, 31]}},
           "y": {"field": "value", "type": "quantitative", "scale": {"domain": [0, 7], "nice": false}, "axis": {"values": [0, 1, 2, 3, 4, 5, 6, 7], "title": null}}
         }},
        {"data": {"name": "med"}, "transform": [{"filter": "datum.gene == 'HRASLS'"}],
         "mark": {"type": "tick", "size": 53, "thickness": 5, "color": "black", "opacity": 1},
         "encoding": {"x": {"field": "group", "type": "nominal", "axis": {"title": null}}, "y": {"field": "value", "type": "quantitative", "axis": {"values": [0, 1, 2, 3, 4, 5, 6, 7], "title": null}}}},
        {"data": {"name": "brk"}, "transform": [{"filter": "datum.gene == 'HRASLS' && datum.part == 'a'"}],
         "mark": {"type": "rule", "color": "#444", "strokeWidth": 1.5},
         "encoding": {"x": {"field": "g1", "type": "nominal", "bandPosition": 0.5, "axis": {"title": null}}, "x2": {"field": "g2", "bandPosition": 0.5}, "y": {"field": "y1", "type": "quantitative", "axis": {"values": [0, 1, 2, 3, 4, 5, 6, 7], "title": null}}, "y2": {"field": "y2"}}},
        {"data": {"name": "brk"}, "transform": [{"filter": "datum.gene == 'HRASLS' && datum.part == 'h'"}],
         "mark": {"type": "rule", "color": "#444", "strokeWidth": 1.5},
         "encoding": {"x": {"field": "g1", "type": "nominal", "bandPosition": 0.6, "axis": {"title": null}}, "x2": {"field": "g2", "bandPosition": 0.5}, "y": {"field": "y1", "type": "quantitative", "axis": {"values": [0, 1, 2, 3, 4, 5, 6, 7], "title": null}}, "y2": {"field": "y2"}}},
        {"data": {"name": "brk"}, "transform": [{"filter": "datum.gene == 'HRASLS' && datum.part == 'l'"}],
         "mark": {"type": "rule", "color": "#444", "strokeWidth": 1.5},
         "encoding": {"x": {"field": "g1", "type": "nominal", "bandPosition": 0.6, "axis": {"title": null}}, "x2": {"field": "g2", "bandPosition": 0.6}, "y": {"field": "y1", "type": "quantitative", "axis": {"values": [0, 1, 2, 3, 4, 5, 6, 7], "title": null}}, "y2": {"field": "y2"}}},
        {"data": {"name": "brk"}, "transform": [{"filter": "datum.gene == 'HRASLS' && datum.part == 'star'"}],
         "mark": {"type": "text", "text": "*", "fontSize": 17, "fontWeight": "bold", "baseline": "middle", "dy": 3, "color": "black"},
         "encoding": {"x": {"field": "g1", "type": "nominal", "bandPosition": 0.3, "axis": {"title": null}}, "y": {"field": "y1", "type": "quantitative", "axis": {"values": [0, 1, 2, 3, 4, 5, 6, 7], "title": null}}}}
      ]
    },
    {
      "title": "LOX", "width": 207, "height": 204,
      "layer": [
        {"data": {"name": "LOX"},
         "transform": [{"bin": {"step": 1.6}, "field": "value", "as": "vbin"}, {"window": [{"op": "row_number", "as": "slot"}], "groupby": ["group", "vbin"], "sort": [{"field": "value", "order": "descending"}]}],
         "mark": {"type": "circle", "size": 11, "color": "black", "opacity": 1},
         "encoding": {
           "x": {"field": "group", "type": "nominal", "scale": {"domain": ["II-0", "II-10", "II-30"], "paddingInner": 0.1, "paddingOuter": 0.05}, "axis": {"title": null}},
           "xOffset": {"field": "slot", "type": "ordinal", "scale": {"type": "point", "padding": 0, "range": [-17.25, 78.75], "domain": [30, 28, 26, 24, 22, 20, 18, 16, 14, 12, 10, 8, 6, 4, 2, 1, 3, 5, 7, 9, 11, 13, 15, 17, 19, 21, 23, 25, 27, 29, 31]}},
           "y": {"field": "value", "type": "quantitative", "scale": {"domain": [0, 80], "nice": false}, "axis": {"values": [0, 10, 20, 30, 40, 50, 60, 70, 80], "title": null}}
         }},
        {"data": {"name": "med"}, "transform": [{"filter": "datum.gene == 'LOX'"}],
         "mark": {"type": "tick", "size": 53, "thickness": 5, "color": "black", "opacity": 1},
         "encoding": {"x": {"field": "group", "type": "nominal", "axis": {"title": null}}, "y": {"field": "value", "type": "quantitative", "axis": {"values": [0, 10, 20, 30, 40, 50, 60, 70, 80], "title": null}}}},
        {"data": {"name": "brk"}, "transform": [{"filter": "datum.gene == 'LOX' && datum.part == 'a'"}],
         "mark": {"type": "rule", "color": "#444", "strokeWidth": 1.5},
         "encoding": {"x": {"field": "g1", "type": "nominal", "bandPosition": 0.5, "axis": {"title": null}}, "x2": {"field": "g2", "bandPosition": 0.5}, "y": {"field": "y1", "type": "quantitative", "axis": {"values": [0, 10, 20, 30, 40, 50, 60, 70, 80], "title": null}}, "y2": {"field": "y2"}}},
        {"data": {"name": "brk"}, "transform": [{"filter": "datum.gene == 'LOX' && datum.part == 'h'"}],
         "mark": {"type": "rule", "color": "#444", "strokeWidth": 1.5},
         "encoding": {"x": {"field": "g1", "type": "nominal", "bandPosition": 0.6, "axis": {"title": null}}, "x2": {"field": "g2", "bandPosition": 0.5}, "y": {"field": "y1", "type": "quantitative", "axis": {"values": [0, 10, 20, 30, 40, 50, 60, 70, 80], "title": null}}, "y2": {"field": "y2"}}},
        {"data": {"name": "brk"}, "transform": [{"filter": "datum.gene == 'LOX' && datum.part == 'l'"}],
         "mark": {"type": "rule", "color": "#444", "strokeWidth": 1.5},
         "encoding": {"x": {"field": "g1", "type": "nominal", "bandPosition": 0.6, "axis": {"title": null}}, "x2": {"field": "g2", "bandPosition": 0.6}, "y": {"field": "y1", "type": "quantitative", "axis": {"values": [0, 10, 20, 30, 40, 50, 60, 70, 80], "title": null}}, "y2": {"field": "y2"}}},
        {"data": {"name": "brk"}, "transform": [{"filter": "datum.gene == 'LOX' && datum.part == 'star'"}],
         "mark": {"type": "text", "text": "*", "fontSize": 17, "fontWeight": "bold", "baseline": "middle", "dy": 3, "color": "black"},
         "encoding": {"x": {"field": "g1", "type": "nominal", "bandPosition": 0.3, "axis": {"title": null}}, "y": {"field": "y1", "type": "quantitative", "axis": {"values": [0, 10, 20, 30, 40, 50, 60, 70, 80], "title": null}}}}
      ]
    }
  ]
}
